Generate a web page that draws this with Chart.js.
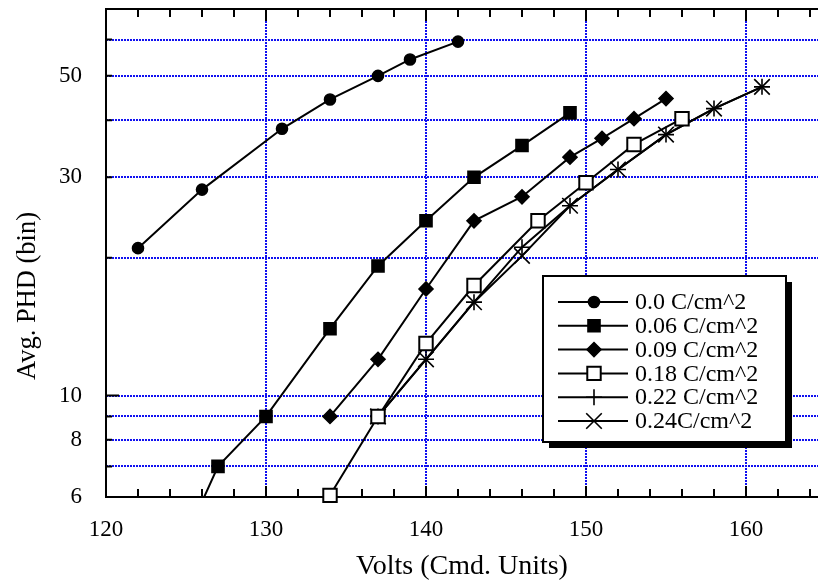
<!DOCTYPE html>
<html>
<head>
<meta charset="utf-8">
<script src="https://cdn.jsdelivr.net/npm/chart.js@4/dist/chart.umd.min.js"></script>
<style>
  body { margin: 0; background: #fff; }
</style>
</head>
<body>
<canvas id="myChart" width="818" height="583"></canvas>
<script>
Chart.defaults.font.family = '"Liberation Serif", "Times New Roman", serif';
Chart.defaults.color = "#000";

// tick values
const xTicks = [120, 122, 124, 126, 128, 130, 132, 134, 136, 138, 140, 142, 144, 146, 148, 150, 152, 154, 156, 158, 160, 162, 164];
const yTicks = [6, 7, 8, 9, 10, 20, 30, 40, 50, 60, 70];
const yLabels = [6, 8, 10, 30, 50];

// series (volts, avg PHD)
const labels = ["0.0 C/cm^2", "0.06 C/cm^2", "0.09 C/cm^2", "0.18 C/cm^2", "0.22 C/cm^2", "0.24C/cm^2"];
const volts00 = [122, 126, 131, 134, 137, 139, 142];
const phd00 = [21, 28.2, 38.3, 44.4, 50, 54.3, 59.4];
const volts06 = [125, 127, 130, 134, 137, 140, 143, 146, 149];
const phd06 = [4.9, 7, 9, 14, 19.2, 24.1, 30, 35.2, 41.5];
const volts09 = [134, 137, 140, 143, 146, 149, 151, 153, 155];
const phd09 = [9, 12, 17.1, 24.1, 27.2, 33.2, 36.5, 40.3, 44.6];
const volts18 = [134, 137, 140, 143, 147, 150, 153, 156];
const phd18 = [6.05, 9, 13, 17.4, 24.1, 29.2, 35.4, 40.3];
const volts22 = [137, 140, 143, 146, 149, 152, 155, 158, 161];
const phd22 = [9, 12, 16, 21.1, 26, 31.2, 37.2, 42.4, 47.3];
const volts24 = [137, 140, 143, 146, 149, 152, 155, 158, 161];
const phd24 = [9, 12, 16, 20.2, 26, 31.2, 37.2, 42.4, 47.3];

const pts = (xs, ys) => xs.map((v, i) => ({ x: v, y: ys[i] }));

const GRID = "#1010f0";

function series(i, xs, ys, style, radius, fill, extra) {
	return Object.assign({
		label: labels[i],
		data: pts(xs, ys),
		borderColor: "#000",
		borderWidth: 2,
		pointStyle: style,
		pointRadius: radius,
		pointHoverRadius: radius,
		pointBackgroundColor: fill,
		pointBorderColor: "#000",
		pointBorderWidth: 1.6,
		tension: 0,
	}, extra || {});
}

const data = {
	datasets: [
		series(0, volts00, phd00, "circle", 5.5, "#000"),
		series(1, volts06, phd06, "rect", 8.5, "#000"),
		series(2, volts09, phd09, "rectRot", 7, "#000"),
		series(3, volts18, phd18, "rect", 9.5, "#fff", { clip: false, pointBorderWidth: 2 }),
		series(4, volts22, phd22, "cross", 8, "#000"),
		series(5, volts24, phd24, "crossRot", 11, "#000"),
	],
};

const noPad = (scale) => {
	scale.paddingLeft = 0;
	scale.paddingRight = 0;
	scale.paddingTop = 0;
	scale.paddingBottom = 0;
};

// frame + inward tick marks
const frame = {
	id: "frame",
	beforeDatasetsDraw(chart) {
		const { ctx, chartArea: a, scales: { x, y } } = chart;
		ctx.save();
		ctx.strokeStyle = "#000";
		ctx.lineWidth = 2;
		ctx.beginPath();
		ctx.moveTo(a.right + 5, a.top);
		ctx.lineTo(a.left, a.top);
		ctx.lineTo(a.left, a.bottom);
		ctx.lineTo(a.right + 5, a.bottom);
		ctx.stroke();
		ctx.beginPath();
		xTicks.forEach((v) => {
			const px = x.getPixelForValue(v);
			const major = v % 10 === 0;
			ctx.moveTo(px, a.bottom);
			ctx.lineTo(px, a.bottom - (major ? 11 : 8));
			ctx.moveTo(px, a.top);
			ctx.lineTo(px, a.top + (major ? 12 : 8));
		});
		yTicks.forEach((v) => {
			const py = y.getPixelForValue(v);
			ctx.moveTo(a.left, py);
			ctx.lineTo(a.left + (v === 10 ? 13 : 6), py);
		});
		ctx.stroke();
		ctx.restore();
	},
};

// boxed legend with shadow and the y title
const legendBox = {
	id: "legendBox",
	afterDraw(chart) {
		const ctx = chart.ctx;
		const bx = 543, by = 276, bw = 243, bh = 166;
		ctx.save();
		ctx.fillStyle = "#000";
		ctx.fillRect(bx + 6, by + 6, bw, bh);
		ctx.fillStyle = "#fff";
		ctx.fillRect(bx, by, bw, bh);
		ctx.lineWidth = 2;
		ctx.strokeStyle = "#000";
		ctx.strokeRect(bx, by, bw, bh);
		ctx.font = '24px "Liberation Serif"';
		ctx.textBaseline = "middle";
		chart.data.datasets.forEach((ds, i) => {
			const yy = 302 + i * 23.8;
			ctx.strokeStyle = "#000";
			ctx.lineWidth = 2;
			ctx.beginPath();
			ctx.moveTo(558, yy);
			ctx.lineTo(628, yy);
			ctx.stroke();
			ctx.fillStyle = ds.pointBackgroundColor;
			ctx.lineWidth = ds.pointBorderWidth;
			Chart.helpers.drawPoint(ctx, {
				pointStyle: ds.pointStyle,
				radius: ds.pointRadius,
				rotation: 0,
				borderWidth: ds.pointBorderWidth,
			}, 594, yy);
			ctx.fillStyle = "#000";
			ctx.fillText(ds.label, 635, yy + 1);
		});

		ctx.translate(28, 296);
		ctx.rotate(-Math.PI / 2);
		ctx.font = '26.5px "Liberation Serif"';
		ctx.textAlign = "center";
		ctx.fillText("Avg. PHD (bin)", 0, 0);
		ctx.restore();
	},
};

const config = {
	type: "line",
	data,
	options: {
		responsive: false,
		animation: false,
		layout: { autoPadding: false, padding: { top: 9, right: 0, left: 0, bottom: 0 } },
		plugins: {
			legend: { display: false },
			tooltip: { enabled: false },
		},
		scales: {
			x: {
				type: "linear",
				min: 120,
				max: 164.5,
				afterBuildTicks: (scale) => {
					scale.ticks = xTicks.map((v) => ({ value: v }));
				},
				afterFit: (scale) => {
					scale.height = 86;
					noPad(scale);
				},
				ticks: {
					autoSkip: false,
					maxRotation: 0,
					padding: 19,
					font: { size: 23 },
					callback: (val) => (val % 10 === 0 ? String(val) : ""),
				},
				grid: {
					drawTicks: false,
					lineWidth: 2,
					color: (c) => (c.tick && c.tick.value % 10 === 0 && c.tick.value !== 120 ? GRID : "rgba(0,0,0,0)"),
				},
				border: { display: false, dash: [2, 1] },
				title: {
					display: true,
					text: "Volts (Cmd. Units)",
					font: { size: 28 },
					padding: 0,
				},
			},
			y: {
				type: "logarithmic",
				min: 6,
				max: 70,
				afterBuildTicks: (scale) => {
					scale.ticks = yTicks.map((v) => ({ value: v }));
				},
				afterFit: (scale) => {
					scale.width = 106;
					noPad(scale);
				},
				ticks: {
					autoSkip: false,
					padding: 24,
					font: { size: 23 },
					callback: (val) => (yLabels.includes(val) ? String(val) : ""),
				},
				grid: {
					drawTicks: false,
					lineWidth: 2,
					color: (c) => (c.tick && c.tick.value !== 6 && c.tick.value !== 70 ? GRID : "rgba(0,0,0,0)"),
				},
				border: { display: false, dash: [2, 1] },
			},
		},
	},
	plugins: [frame, legendBox],
};

const ctx = document.getElementById("myChart").getContext("2d");
new Chart(ctx, config);
</script>
</body>
</html>
